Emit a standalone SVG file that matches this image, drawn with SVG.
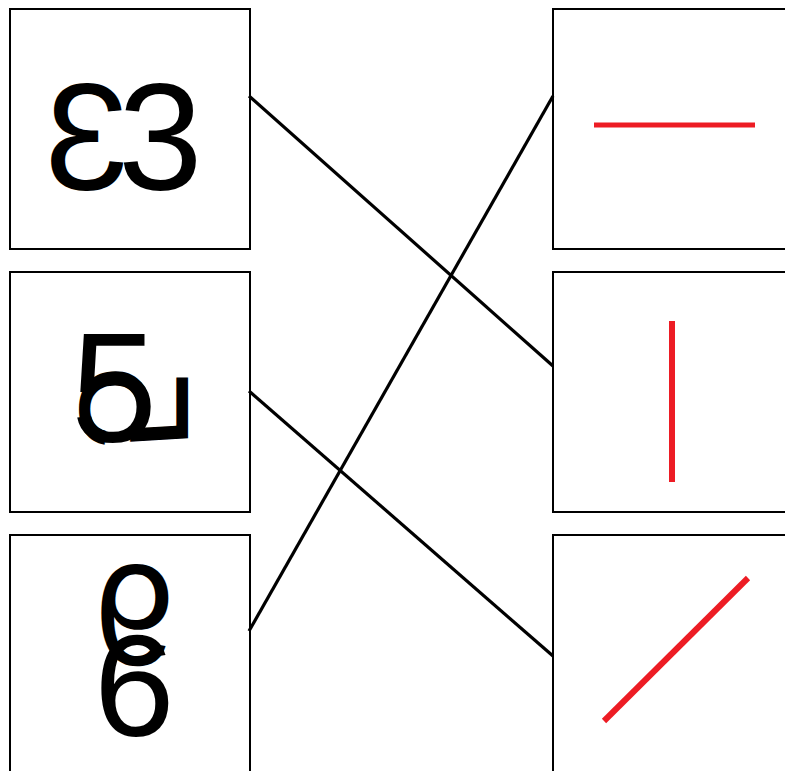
<svg xmlns="http://www.w3.org/2000/svg" width="785" height="771" viewBox="0 0 785 771">
<style>
.box{fill:#fff;stroke:#000;stroke-width:2}
.dig{font-family:"Liberation Sans",Arial,sans-serif;fill:#000}
.red{stroke:#ed1c24;fill:none;stroke-linecap:butt}
.conn line{stroke:#000;stroke-width:3.2}
</style>
<rect width="785" height="771" fill="#fff"/>
<g id="left1">
<rect class="box" x="10" y="9" width="240" height="240"/>
<text class="dig" x="118" y="190" font-size="152">3</text>
<text class="dig" x="118" y="190" font-size="152" transform="translate(247,0) scale(-1,1)">3</text>
</g>
<g id="left2">
<rect class="box" x="10" y="272" width="240" height="240"/>
<text class="dig" x="71" y="441" font-size="155">5</text>
<text class="dig" x="71" y="441" font-size="155" transform="matrix(0,-1,-1,0,522,522)">5</text>
</g>
<g id="left3">
<rect class="box" x="10" y="535" width="240" height="260"/>
<text class="dig" x="94" y="736" font-size="145">6</text>
<text class="dig" x="94" y="736" font-size="145" transform="translate(0,1301) scale(1,-1)">6</text>
</g>
<g id="right1">
<rect class="box" x="553" y="9" width="260" height="240"/>
<line class="red" x1="594" y1="125" x2="755" y2="125" stroke-width="5"/>
</g>
<g id="right2">
<rect class="box" x="553" y="272" width="260" height="240"/>
<line class="red" x1="672" y1="321" x2="672" y2="482" stroke-width="6"/>
</g>
<g id="right3">
<rect class="box" x="553" y="535" width="260" height="260"/>
<line class="red" x1="604" y1="721" x2="748" y2="578" stroke-width="6"/>
</g>
<g id="connectors" class="conn">
<line x1="249" y1="96" x2="553" y2="366"/>
<line x1="553" y1="96" x2="249" y2="631"/>
<line x1="249" y1="391" x2="553" y2="656"/>
</g>
</svg>
